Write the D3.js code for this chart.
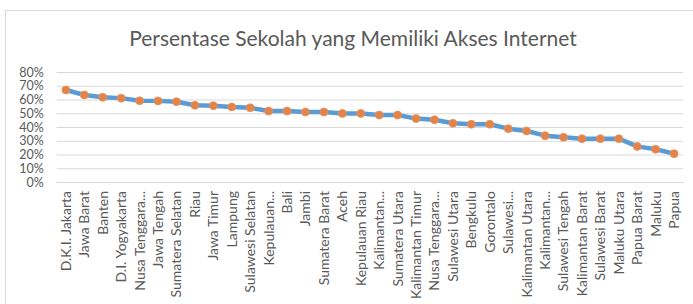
<!DOCTYPE html>
<html lang="id">
  <head>
    <meta charset="UTF-8" />
    <title>Persentase Sekolah yang Memiliki Akses Internet</title>
    <style>
      html,
      body {
        margin: 0;
        padding: 0;
        background: #fff;
      }
      svg {
        display: block;
      }
    </style>
    <script src="https://cdn.jsdelivr.net/npm/d3@7/dist/d3.min.js"></script>
  </head>
  <body>
    <script>
      const provinces = [
        "D.K.I. Jakarta", "Jawa Barat", "Banten", "D.I. Yogyakarta",
        "Nusa Tenggara...", "Jawa Tengah", "Sumatera Selatan", "Riau",
        "Jawa Timur", "Lampung", "Sulawesi Selatan", "Kepulauan...",
        "Bali", "Jambi", "Sumatera Barat", "Aceh", "Kepulauan Riau",
        "Kalimantan...", "Sumatera Utara", "Kalimantan Timur",
        "Nusa Tenggara...", "Sulawesi Utara", "Bengkulu", "Gorontalo",
        "Sulawesi...", "Kalimantan Utara", "Kalimantan...",
        "Sulawesi Tengah", "Kalimantan Barat", "Sulawesi Barat",
        "Maluku Utara", "Papua Barat", "Maluku", "Papua",
      ];
      const aksesInternet = [
        0.669, 0.633, 0.616, 0.61, 0.591, 0.59, 0.584, 0.558, 0.555,
        0.546, 0.54, 0.516, 0.516, 0.509, 0.509, 0.499, 0.499, 0.487,
        0.487, 0.461, 0.453, 0.427, 0.42, 0.42, 0.388, 0.371, 0.337,
        0.325, 0.315, 0.315, 0.315, 0.259, 0.238, 0.206,
      ];
      const yTicks = [0, 0.1, 0.2, 0.3, 0.4, 0.5, 0.6, 0.7, 0.8];

      const width = 693;
      const height = 304;
      const font = "Lato, 'Open Sans', sans-serif";

      const svg = d3
        .select(document.body)
        .append("svg")
        .attr("width", width)
        .attr("height", height)
        .attr("font-family", font);

      // chart area border
      svg
        .append("rect")
        .attr("x", 5.5)
        .attr("y", 10.5)
        .attr("width", 720)
        .attr("height", 320)
        .attr("fill", "#fff")
        .attr("stroke", "#d9d9d9");

      svg
        .append("text")
        .attr("x", 353)
        .attr("y", 46)
        .attr("text-anchor", "middle")
        .attr("font-size", 21)
        .attr("fill", "#595959")
        .text("Persentase Sekolah yang Memiliki Akses Internet");

      const x = d3.scaleBand().domain(d3.range(provinces.length)).range([56.7, 683.3]);
      const y = d3.scaleLinear().domain([0, 0.8]).range([182, 72]);

      // gridlines + y labels
      const yAxis = svg
        .append("g")
        .attr("transform", "translate(56.7,0)")
        .call(
          d3
            .axisLeft(y)
            .tickValues(yTicks)
            .tickFormat(d3.format(".0%"))
            .tickSize(-(683.3 - 56.7))
            .tickPadding(13)
        );
      yAxis.select(".domain").remove();
      yAxis.selectAll(".tick line").attr("stroke", "#d9d9d9");
      yAxis
        .selectAll(".tick text")
        .attr("fill", "#595959")
        .attr("font-size", 12.5)
        .attr("font-family", font);

      // category axis
      const xAxis = svg
        .append("g")
        .attr("transform", `translate(0,${y(0)})`)
        .call(
          d3
            .axisBottom(x)
            .tickSize(0)
            .tickFormat((i) => provinces[i])
        );
      xAxis.select(".domain").attr("stroke", "#d9d9d9");
      xAxis
        .selectAll(".tick text")
        .attr("fill", "#595959")
        .attr("font-size", 14)
        .attr("font-family", font)
        .attr("text-anchor", "end")
        .attr("transform", "rotate(-90)")
        .attr("x", -9)
        .attr("y", 0)
        .attr("dy", "0.35em");

      const cx = (i) => x(i) + x.bandwidth() / 2;

      svg
        .append("path")
        .datum(aksesInternet)
        .attr("fill", "none")
        .attr("stroke", "#5b9bd5")
        .attr("stroke-width", 4.5)
        .attr("stroke-linejoin", "round")
        .attr("stroke-linecap", "round")
        .attr("d", d3.line().x((d, i) => cx(i)).y((d) => y(d)));

      svg
        .append("g")
        .selectAll("circle")
        .data(aksesInternet)
        .join("circle")
        .attr("cx", (d, i) => cx(i))
        .attr("cy", (d) => y(d))
        .attr("r", 4)
        .attr("fill", "#e2834a")
        .attr("stroke", "#e8935f")
        .attr("stroke-width", 0.75);
    </script>
  </body>
</html>
